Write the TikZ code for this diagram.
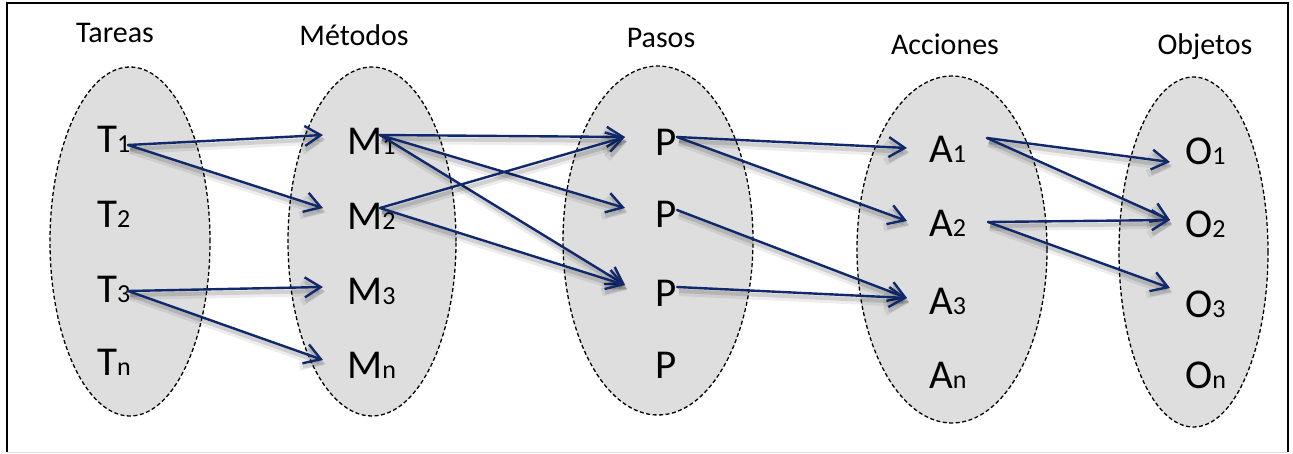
\documentclass[tikz,border=0pt]{standalone}
\usepackage{fontspec}
\setmainfont{Carlito}
\usetikzlibrary{shapes.geometric,arrows.meta}
\definecolor{linkblue}{RGB}{16,40,108}
\definecolor{setgray}{RGB}{222,222,222}
% element label: large capital followed by a smaller index on the same baseline
\newcommand\elem[2]{{\fontsize{41}{41}\selectfont #1}{\fontsize{26}{26}\selectfont #2}}

\begin{document}
\begin{tikzpicture}[x=1pt,y=-1pt,
  setshape/.style={ellipse, draw=black, fill=setgray, dash pattern=on 4pt off 2.5pt,
    line width=1.3pt, inner sep=0pt},
  elemtext/.style={anchor=base west, inner sep=0pt},
  headtext/.style={anchor=base, inner sep=0pt, font=\fontsize{30}{30}\selectfont},
  conn/.style={draw=linkblue, line width=2.4pt, line cap=round,
    -{Straight Barb[length=16pt,width=20pt]},
    preaction={draw=black, opacity=.07, line width=8pt, transform canvas={shift={(2pt,-5pt)}}},
    preaction={draw=black, opacity=.12, line width=4pt, transform canvas={shift={(2pt,-4pt)}}}},
]
\useasboundingbox (0,0) rectangle (1293,454);

% frame
\draw[black!12, line width=1pt] (7,452) -- (1288,452);
\draw[black, line width=2pt] (7,452) -- (7,3) -- (1288,3) -- (1288,452);

% sets
\node[setshape, minimum width=160pt, minimum height=349pt] (Tset) at (130,241.5) {};
\node[setshape, minimum width=168pt, minimum height=349pt] (Mset) at (372,241.5) {};
\node[setshape, minimum width=190pt, minimum height=349pt] (Pset) at (658,240.5) {};
\node[setshape, minimum width=190pt, minimum height=347pt] (Aset) at (952,249.5) {};
\node[setshape, minimum width=149pt, minimum height=350pt] (Oset) at (1193.5,252) {};

% headings
\node[headtext] (Th) at (115,43) {Tareas};
\node[headtext] (Mh) at (354,46) {Métodos};
\node[headtext] (Ph) at (661,48) {Pasos};
\node[headtext] (Ah) at (945,55) {Acciones};
\node[headtext] (Oh) at (1205,55) {Objetos};

% elements
\node[elemtext] (T1) at (97,153) {\elem{T}{1}};
\node[elemtext] (T2) at (97,228) {\elem{T}{2}};
\node[elemtext] (T3) at (97,303) {\elem{T}{3}};
\node[elemtext] (Tn) at (97,375) {\elem{T}{n}};

\node[elemtext] (M1) at (347,155) {\elem{M}{1}};
\node[elemtext] (M2) at (347,230) {\elem{M}{2}};
\node[elemtext] (M3) at (347,305) {\elem{M}{3}};
\node[elemtext] (Mn) at (347,378) {\elem{M}{n}};

\node[elemtext] (P1) at (655,156) {\elem{P}{}};
\node[elemtext] (P2) at (655,228) {\elem{P}{}};
\node[elemtext] (P3) at (655,307) {\elem{P}{}};
\node[elemtext] (P4) at (655,378) {\elem{P}{}};

\node[elemtext] (A1) at (929,163) {\elem{A}{1}};
\node[elemtext] (A2) at (929,237) {\elem{A}{2}};
\node[elemtext] (A3) at (929,315) {\elem{A}{3}};
\node[elemtext] (An) at (929,388) {\elem{A}{n}};

\node[elemtext] (O1) at (1185,165) {\elem{O}{1}};
\node[elemtext] (O2) at (1185,238) {\elem{O}{2}};
\node[elemtext] (O3) at (1185,317) {\elem{O}{3}};
\node[elemtext] (On) at (1185,388) {\elem{O}{n}};

% attachment points of the connectors
\coordinate (T1o) at ([xshift=31pt,yshift=8pt]T1.base west);
\coordinate (T3o) at ([xshift=31pt,yshift=12pt]T3.base west);
\coordinate (M1i) at ([xshift=-24pt,yshift=20pt]M1.base west);
\coordinate (M1o) at ([xshift=33pt,yshift=20pt]M1.base west);
\coordinate (M2i) at ([xshift=-24pt,yshift=22pt]M2.base west);
\coordinate (M2o) at ([xshift=33pt,yshift=22pt]M2.base west);
\coordinate (M3i) at ([xshift=-24pt,yshift=18pt]M3.base west);
\coordinate (Mni) at ([xshift=-24pt,yshift=18pt]Mn.base west);
\coordinate (P1i) at ([xshift=-30pt,yshift=19pt]P1.base west);
\coordinate (P1o) at ([xshift=22pt,yshift=19pt]P1.base west);
\coordinate (P2i) at ([xshift=-30pt,yshift=20pt]P2.base west);
\coordinate (P2o) at ([xshift=22pt,yshift=18pt]P2.base west);
\coordinate (P3i) at ([xshift=-30pt,yshift=22pt]P3.base west);
\coordinate (P3o) at ([xshift=22pt,yshift=20pt]P3.base west);
\coordinate (A1i) at ([xshift=-22pt,yshift=15pt]A1.base west);
\coordinate (A1o) at ([xshift=58pt,yshift=25pt]A1.base west);
\coordinate (A2i) at ([xshift=-22pt,yshift=16pt]A2.base west);
\coordinate (A2o) at ([xshift=59pt,yshift=15pt]A2.base west);
\coordinate (A3i) at ([xshift=-22pt,yshift=17pt]A3.base west);
\coordinate (O1i) at ([xshift=-15pt,yshift=3pt]O1.base west);
\coordinate (O2i) at ([xshift=-15pt,yshift=18pt]O2.base west);
\coordinate (O3i) at ([xshift=-15pt,yshift=29pt]O3.base west);

% connectors
\draw[conn] (T1o) -- (M1i);
\draw[conn] (T1o) -- (M2i);
\draw[conn] (T3o) -- (M3i);
\draw[conn] (T3o) -- (Mni);

\draw[conn] (M1o) -- (P1i);
\draw[conn] (M1o) -- (P2i);
\draw[conn] (M1o) -- (P3i);
\draw[conn] (M2o) -- (P1i);
\draw[conn] (M2o) -- (P3i);

\draw[conn] (P1o) -- (A1i);
\draw[conn] (P1o) -- (A2i);
\draw[conn] (P2o) -- (A3i);
\draw[conn] (P3o) -- (A3i);

\draw[conn] (A1o) -- (O1i);
\draw[conn] (A1o) -- (O2i);
\draw[conn] (A2o) -- (O2i);
\draw[conn] (A2o) -- (O3i);
\end{tikzpicture}
\end{document}
